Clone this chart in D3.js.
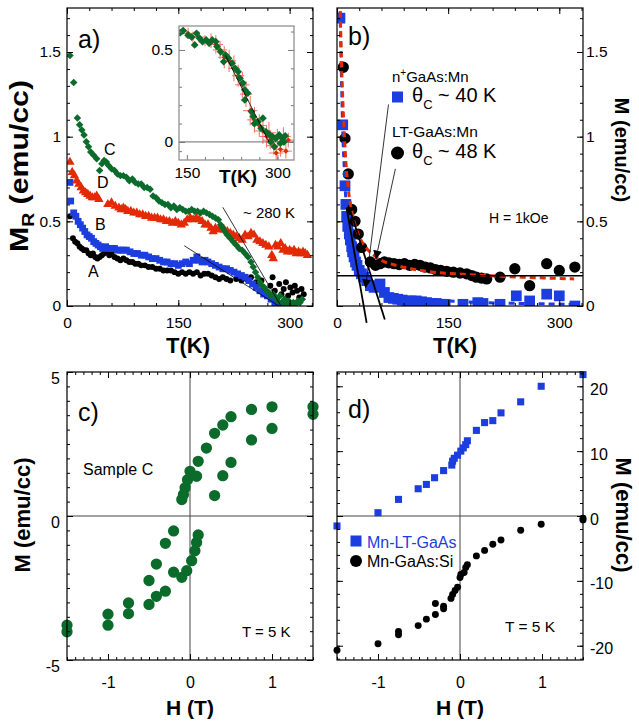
<!DOCTYPE html>
<html>
<head>
<meta charset="utf-8">
<script src="https://cdn.jsdelivr.net/npm/d3@7"></script>
<style>
  body { margin: 0; background: #fff; }
  svg text { font-family: "Liberation Sans", Arial, sans-serif; }
</style>
</head>
<body>
<svg id="chart" width="639" height="723"></svg>
<script>
// ---------------- data ----------------
// panel a: remanent magnetisation vs T, [T (K), M_R (emu/cc)]
const sampleA = [[4,0.53],[8,0.40],[11,0.38],[14,0.37],[17,0.35],[20,0.34],[23,0.33],[26,0.33],[29,0.31],[32,0.30],[35,0.31],[38,0.29],[41,0.28],[44,0.29],[47,0.30],[50,0.31],[53,0.32],[57,0.30],[60,0.31],[64,0.29],[68,0.28],[72,0.27],[76,0.28],[80,0.27],[84,0.26],[88,0.26],[92,0.25],[96,0.25],[100,0.24],[105,0.24],[110,0.23],[115,0.23],[120,0.22],[125,0.22],[130,0.21],[135,0.21],[140,0.21],[145,0.20],[150,0.19],[155,0.20],[160,0.19],[165,0.20],[170,0.19],[175,0.20],[180,0.18],[185,0.19],[190,0.19],[195,0.18],[200,0.17],[205,0.16],[210,0.17],[215,0.16],[220,0.15],[228,0.16],[235,0.15],[242,0.16],[248,0.17],[255,0.14],[262,0.15],[266,0.10],[270,0.07],[274,0.12],[277,0.17],[280,0.09],[283,0.04],[286,0.13],[289,0.07],[292,0.10],[295,0.14],[298,0.06],[301,0.11],[304,0.08],[307,0.12],[310,0.09],[313,0.05],[316,0.10],[319,0.07]];
const sampleB = [[4,0.73],[5,0.62],[9,0.55],[12,0.53],[15,0.50],[18,0.48],[21,0.46],[24,0.44],[27,0.42],[30,0.41],[33,0.40],[36,0.38],[39,0.37],[42,0.36],[45,0.35],[48,0.34],[52,0.35],[56,0.34],[60,0.34],[64,0.34],[68,0.33],[72,0.33],[76,0.33],[80,0.33],[85,0.32],[90,0.31],[95,0.31],[100,0.30],[105,0.30],[110,0.29],[115,0.28],[120,0.28],[125,0.27],[130,0.26],[135,0.26],[140,0.25],[145,0.25],[150,0.24],[155,0.25],[160,0.26],[165,0.25],[170,0.27],[175,0.29],[178,0.27],[182,0.26],[186,0.27],[190,0.26],[195,0.25],[200,0.24],[205,0.23],[210,0.22],[215,0.22],[220,0.21],[225,0.20],[230,0.19],[235,0.18],[240,0.17],[245,0.15],[250,0.13],[255,0.11],[260,0.09],[265,0.07],[270,0.06],[275,0.04],[280,0.02],[285,0.01],[290,0.00]];
const sampleC = [[4,1.48],[9,1.32],[14,1.11],[17,1.07],[20,1.04],[23,1.01],[26,0.97],[29,0.94],[32,0.91],[36,0.89],[40,0.87],[44,0.80],[47,0.84],[50,0.86],[53,0.85],[56,0.83],[60,0.81],[64,0.80],[68,0.78],[72,0.77],[76,0.77],[80,0.76],[84,0.74],[88,0.75],[92,0.73],[96,0.72],[100,0.72],[104,0.70],[108,0.70],[112,0.69],[116,0.65],[120,0.64],[124,0.62],[128,0.61],[132,0.60],[136,0.60],[140,0.58],[144,0.59],[148,0.57],[152,0.58],[156,0.57],[160,0.56],[164,0.56],[168,0.57],[172,0.56],[176,0.56],[180,0.55],[184,0.56],[188,0.55],[192,0.54],[196,0.53],[200,0.52],[204,0.51],[207,0.48],[210,0.46],[213,0.44],[216,0.42],[220,0.40],[224,0.38],[228,0.36],[232,0.34],[236,0.33],[240,0.31],[244,0.29],[248,0.26],[251,0.23],[254,0.20],[257,0.17],[260,0.14],[263,0.12],[266,0.11],[269,0.09],[272,0.08],[275,0.06],[278,0.07],[281,0.05],[284,0.03],[287,0.06],[290,0.02],[293,0.04],[296,0.01],[299,0.03],[302,0.00],[305,0.02],[308,0.01],[311,0.03],[314,0.02],[317,0.04]];
const sampleD = [[4,0.85],[7,0.79],[10,0.77],[13,0.74],[16,0.72],[19,0.70],[22,0.68],[25,0.67],[28,0.66],[31,0.65],[34,0.64],[37,0.64],[40,0.65],[43,0.63],[55,0.60],[60,0.61],[65,0.59],[70,0.58],[73,0.57],[76,0.58],[79,0.57],[82,0.56],[86,0.56],[90,0.55],[94,0.55],[98,0.54],[102,0.54],[106,0.53],[110,0.53],[114,0.52],[118,0.52],[122,0.52],[126,0.51],[130,0.51],[134,0.50],[138,0.50],[142,0.49],[146,0.50],[150,0.49],[154,0.48],[158,0.49],[162,0.51],[166,0.52],[170,0.51],[174,0.52],[178,0.51],[182,0.50],[186,0.48],[190,0.48],[194,0.46],[197,0.44],[200,0.46],[204,0.45],[208,0.46],[212,0.45],[216,0.44],[220,0.43],[224,0.42],[228,0.41],[232,0.40],[236,0.39],[240,0.42],[244,0.41],[248,0.43],[252,0.42],[256,0.39],[260,0.38],[264,0.37],[268,0.36],[272,0.35],[276,0.30],[278,0.28],[281,0.36],[284,0.35],[288,0.37],[291,0.33],[294,0.34],[297,0.32],[300,0.33],[303,0.32],[306,0.33],[309,0.31],[312,0.32],[315,0.31],[318,0.32],[321,0.31],[324,0.30]];
// guide lines in panel a, [[T1,M1],[T2,M2]]
const guideLines = [[[158,0.356],[289,-0.01]], [[210,0.583],[291,-0.02]]];

// inset: sample C near T_C, and red error-bar data [T, M, dT, dM]
const insetC = [[139,0.594],[144,0.605],[152,0.58],[158,0.569],[163,0.527],[166,0.59],[171,0.564],[176,0.545],[182,0.554],[187,0.536],[192,0.554],[198,0.545],[200,0.518],[206,0.49],[211,0.436],[214,0.473],[219,0.455],[225,0.428],[230,0.40],[235,0.382],[238,0.346],[243,0.32],[246,0.283],[251,0.265],[246,0.228],[257,0.165],[260,0.138],[262,0.10],[268,0.11],[276,0.129],[273,0.074],[281,0.056],[287,0.038],[292,0.029],[297,0.02],[303,0.038],[308,0.02],[313,0.033],[311,0.0],[289,0.0],[295,-0.026],[305,-0.007]];
const insetErr = [[142,0.60,8,0.02],[152,0.59,10,0.03],[160,0.57,12,0.03],[170,0.57,10,0.03],[180,0.55,12,0.03],[190,0.55,10,0.04],[198,0.53,12,0.05],[205,0.50,12,0.05],[212,0.46,10,0.06],[220,0.44,12,0.06],[228,0.40,10,0.07],[235,0.36,10,0.06],[242,0.31,12,0.07],[248,0.26,10,0.07],[255,0.17,12,0.08],[262,0.12,12,0.07],[270,0.09,12,0.06],[276,0.06,14,0.07],[282,0.03,12,0.06],[288,0.01,12,0.05],[294,-0.02,12,0.05],[300,0.02,14,0.05],[305,-0.04,12,0.04],[310,0.03,12,0.05],[314,-0.05,10,0.04],[318,0.01,10,0.04],[298,-0.06,12,0.04],[286,0.05,12,0.06]];
const insetLine = [[214,0.47],[286,0.0]];

// panel b: M(T) at 1 kOe, [T, M]
const ltGaAs = [[8.5,1.41],[10.8,0.99],[15.2,0.78],[19.8,0.57],[24.3,0.50],[28.7,0.425],[33.3,0.346],[45,0.26],[52,0.24],[58,0.25],[64,0.26],[70,0.255],[77,0.25],[84,0.245],[91,0.25],[98,0.24],[105,0.245],[112,0.24],[119,0.23],[126,0.225],[133,0.215],[140,0.21],[148,0.205],[157,0.20],[166,0.195],[175,0.19],[182,0.18],[188,0.17],[195,0.165],[202,0.16],[220,0.17],[240,0.22],[260,0.12],[283,0.25],[300,0.21],[321,0.23]];
const nGaAs = [[4,1.70],[7.7,1.07],[10.8,0.71],[12,0.60],[13,0.53],[14.5,0.47],[16.6,0.425],[18,0.39],[19.8,0.35],[21,0.32],[23,0.29],[25,0.26],[27,0.24],[30,0.21],[33,0.19],[36,0.17],[40,0.15],[45,0.12],[50,0.11],[58,0.13],[64,0.08],[70,0.05],[76,0.045],[82,0.04],[88,0.035],[94,0.03],[100,0.03],[107,0.03],[114,0.025],[121,0.02],[128,0.015],[134,0.015],[140,0.01],[146,0.01],[170,0.01],[190,0.02],[197,0.015],[220,0.01],[242,0.06],[260,0.03],[283,0.07],[300,0.06],[321,0.00]];
const fitLT = [[4,1.8],[6,1.45],[8,1.2],[10,1.0],[12,0.85],[15,0.7],[20,0.56],[25,0.47],[30,0.41],[40,0.34],[50,0.3],[60,0.27],[80,0.24],[100,0.22],[130,0.2],[160,0.19],[200,0.18],[250,0.17],[320,0.16]];
const fitN = [[4,1.8],[6,1.35],[8,1.0],[10,0.8],[12,0.62],[15,0.48],[20,0.36],[25,0.28],[30,0.22],[40,0.15],[50,0.11],[70,0.07],[100,0.045],[150,0.03],[200,0.02],[250,0.015],[320,0.01]];
const baseLevel = 0.178;
const extrapLines = [[[13,0.58],[40,-0.10]], [[17.5,0.57],[64.5,-0.08]]];
const pointers = [[[69.5,1.19],[38.5,0.11]], [[78.8,0.81],[52.5,0.28]]];

// panel c: hysteresis loop of sample C, [H (T), M (emu/cc)]
const loopC = [[-1.5,-3.79],[-1.5,-4.02],[-1.0,-3.41],[-1.0,-3.79],[-0.75,-3.02],[-0.75,-3.39],[-0.5,-2.24],[-0.5,-3.07],[-0.41,-1.67],[-0.41,-2.79],[-0.30,-0.95],[-0.30,-2.61],[-0.20,-0.52],[-0.20,-1.95],[-0.10,-2.13],[-0.04,-1.90],[0.02,-1.55],[0.06,-1.21],[0.08,-0.92],[0.10,-0.66],[-0.10,0.57],[-0.08,0.75],[-0.06,0.98],[-0.03,1.26],[0,1.55],[0.08,1.38],[0.10,1.90],[0.20,2.36],[0.30,2.87],[0.30,0.71],[0.40,3.16],[0.40,1.40],[0.50,3.45],[0.50,1.86],[0.75,3.70],[0.75,2.64],[1.0,3.79],[1.0,3.04],[1.5,3.79],[1.5,3.53]];

// panel d: M(H) at 5 K
const mnLT = [[-1.5,-1.54],[-1.0,0.51],[-0.75,2.56],[-0.51,4.2],[-0.41,4.87],[-0.31,5.9],[-0.20,7.0],[-0.10,7.85],[-0.09,8.46],[-0.07,8.9],[-0.03,9.38],[0.01,10.0],[0.04,10.5],[0.07,11.0],[0.09,11.6],[0.20,13.2],[0.30,14.4],[0.40,14.7],[0.50,15.9],[0.74,17.6],[0.99,20.0],[1.5,21.8]];
const mnSi = [[-1.5,-20.7],[-1.0,-19.7],[-0.75,-17.8],[-0.75,-18.3],[-0.51,-16.9],[-0.41,-15.9],[-0.30,-13.5],[-0.30,-15.2],[-0.20,-13.9],[-0.20,-14.3],[-0.11,-12.7],[-0.09,-12.1],[-0.06,-11.5],[-0.03,-11.0],[0,-9.5],[0.01,-9.0],[0.05,-8.7],[0.07,-7.95],[0.09,-7.5],[0.20,-6.15],[0.30,-5.3],[0.40,-4.36],[0.50,-3.7],[0.74,-2.2],[0.99,-1.28],[1.5,-0.35],[1.5,-0.6]];

// ticks
const tTicks = [0, 150, 300];
const tMinor = [0,30,60,90,120,150,180,210,240,270,300,330];
const mrTicks = [0, 0.5, 1, 1.5];
const insetTTicks = [150, 300];
const insetMTicks = [0, 0.5];
const hTicks = [-1, 0, 1];
const mcTicks = [-5, 0, 5];
const mdTicks = [-20, -10, 0, 10, 20];

// ---------------- drawing ----------------
const svg = d3.select('#chart');
const GREEN = '#0b6b2b', RED = '#e22a05', BLUE = '#1c3ddf';
const FONT = '"Liberation Sans", Arial, sans-serif';

const xa = d3.scaleLinear().domain([0, 331.5]).range([67, 313]);
const ya = d3.scaleLinear().domain([0, 1.76]).range([306, 8]);
const xb = d3.scaleLinear().domain([0, 332]).range([337, 583]);
const yb = d3.scaleLinear().domain([0, 1.76]).range([306, 8]);
const xi = d3.scaleLinear().domain([137, 327.5]).range([179, 294]);
const yi = d3.scaleLinear().domain([-0.098, 0.63]).range([160, 26]);
const xc = d3.scaleLinear().domain([-1.5, 1.5]).range([67, 313]);
const yc = d3.scaleLinear().domain([-5, 5]).range([660, 372]);
const xd = d3.scaleLinear().domain([-1.5, 1.5]).range([337, 583]);
const yd = d3.scaleLinear().domain([-22.2, 22.2]).range([660, 372]);

function side(orient, scale, pos, values, len, opt) {
  opt = opt || {};
  const fn = {bottom: d3.axisBottom, top: d3.axisTop, left: d3.axisLeft, right: d3.axisRight}[orient];
  const ax = fn(scale).tickValues(values).tickSize(-len).tickSizeOuter(0)
    .tickPadding(opt.pad || 6)
    .tickFormat(opt.labels ? (d => String(d)) : (() => ''));
  const tr = (orient === 'bottom' || orient === 'top') ? `translate(0,${pos})` : `translate(${pos},0)`;
  const g = svg.append('g').attr('transform', tr).call(ax);
  g.select('.domain').remove();
  g.selectAll('line').attr('stroke', opt.color || '#000').attr('stroke-width', 1);
  g.selectAll('text').attr('font-size', opt.fs || 15.5).attr('font-family', FONT).attr('fill', '#000');
  if (opt.shift) g.selectAll('text').attr('y', opt.shift);
  return g;
}

function frame(x, y, color, width) {
  const [x0, x1] = x.range(), [y0, y1] = y.range();
  svg.append('rect').attr('x', x0).attr('y', y1).attr('width', x1 - x0).attr('height', y0 - y1)
    .attr('fill', 'none').attr('stroke', color || '#000').attr('stroke-width', width || 1.2);
}

function clip(id, x, y) {
  const [x0, x1] = x.range(), [y0, y1] = y.range();
  svg.append('clipPath').attr('id', id).append('rect')
    .attr('x', x0).attr('y', y1).attr('width', x1 - x0).attr('height', y0 - y1);
  return svg.append('g').attr('clip-path', `url(#${id})`);
}

function points(g, data, x, y, shape, size, color, rot) {
  g.selectAll(null).data(data).join('path')
    .attr('d', d3.symbol(shape, size))
    .attr('transform', d => `translate(${x(d[0])},${y(d[1])})` + (rot ? ' rotate(45)' : ''))
    .attr('fill', color);
}

function segment(g, seg, x, y, w, color) {
  return g.append('line')
    .attr('x1', x(seg[0][0])).attr('y1', y(seg[0][1]))
    .attr('x2', x(seg[1][0])).attr('y2', y(seg[1][1]))
    .attr('stroke', color || '#000').attr('stroke-width', w);
}

function label(txt, x, y, fs, opt) {
  opt = opt || {};
  return svg.append('text').attr('x', x).attr('y', y).attr('font-size', fs)
    .attr('font-weight', opt.bold ? 'bold' : null)
    .attr('text-anchor', opt.anchor || 'start')
    .attr('fill', opt.color || '#000').text(txt);
}

// ----- panel a -----
const ga = clip('clipA', xa, ya);
points(ga, sampleA, xa, ya, d3.symbolCircle, 28, '#000');
points(ga, sampleB, xa, ya, d3.symbolSquare, 46, BLUE);
points(ga, sampleD, xa, ya, d3.symbolTriangle, 38, RED);
points(ga, sampleC, xa, ya, d3.symbolSquare, 28, GREEN, true);
guideLines.forEach(s => segment(ga, s, xa, ya, 0.8));

side('bottom', xa, 306, tMinor, 3);
side('bottom', xa, 306, tTicks, 6, {labels: true, pad: 11});
side('top', xa, 8, tMinor, 3);
side('top', xa, 8, tTicks, 6);
side('left', ya, 67, d3.range(0, 1.76, 0.1), 3);
side('left', ya, 67, mrTicks, 6, {labels: true, pad: 6});
side('right', ya, 313, d3.range(0, 1.76, 0.1), 3);
side('right', ya, 313, mrTicks, 6);
frame(xa, ya);

// inset
svg.append('rect').attr('x', 179).attr('y', 26).attr('width', 115).attr('height', 134).attr('fill', '#fff');
const gi = clip('clipI', xi, yi);
gi.append('line').attr('x1', xi(137)).attr('x2', xi(327.5)).attr('y1', yi(0)).attr('y2', yi(0))
  .attr('stroke', '#888').attr('stroke-width', 1.2);
const errG = gi.append('g').attr('stroke', '#e8442c').attr('stroke-width', 1).attr('opacity', 0.75);
insetErr.forEach(d => {
  errG.append('line').attr('x1', xi(d[0] - d[2])).attr('x2', xi(d[0] + d[2])).attr('y1', yi(d[1])).attr('y2', yi(d[1]));
  errG.append('line').attr('x1', xi(d[0])).attr('x2', xi(d[0])).attr('y1', yi(d[1] - d[3])).attr('y2', yi(d[1] + d[3]));
});
points(gi, insetErr, xi, yi, d3.symbolSquare, 14, RED, true);
points(gi, insetC, xi, yi, d3.symbolSquare, 30, GREEN, true);
segment(gi, insetLine, xi, yi, 0.8);
side('left', yi, 179, [-0.05,0.1,0.2,0.3,0.4,0.6], 3, {color: '#777'});
side('left', yi, 179, insetMTicks, 6, {labels: true, pad: 6, color: '#777'});
side('right', yi, 294, [0.1,0.2,0.3,0.4,0.6], 3, {color: '#777'});
side('right', yi, 294, insetMTicks, 6, {color: '#777'});
side('bottom', xi, 160, [180, 210, 240, 270, 300], 3, {color: '#777'});
side('bottom', xi, 160, insetTTicks, 5, {labels: true, pad: 7, color: '#777'});
frame(xi, yi, '#888', 1.2);
label('T(K)', 238, 183, 19, {bold: true, anchor: 'middle'});

// panel a annotations
label('a)', 78, 48, 25);
label('C', 104, 155, 16);
label('D', 97, 188, 16);
label('B', 95, 230, 16);
label('A', 88, 277, 16);
label('~ 280 K', 243, 218, 15);

// ----- panel b -----
const gb = clip('clipB', xb, yb);
points(gb, nGaAs, xb, yb, d3.symbolSquare, 115, BLUE);
points(gb, ltGaAs, xb, yb, d3.symbolCircle, 100, '#000');
const line = d3.line().x(d => xb(d[0])).y(d => yb(d[1])).curve(d3.curveMonotoneX);
gb.append('path').attr('d', line(fitN)).attr('fill', 'none').attr('stroke', BLUE)
  .attr('stroke-width', 3).attr('stroke-dasharray', '6,4');
gb.append('path').attr('d', line(fitLT)).attr('fill', 'none').attr('stroke', RED)
  .attr('stroke-width', 3).attr('stroke-dasharray', '6,4');
gb.append('line').attr('x1', 337).attr('x2', 583).attr('y1', yb(baseLevel)).attr('y2', yb(baseLevel))
  .attr('stroke', '#000').attr('stroke-width', 1.5);
extrapLines.forEach(s => segment(svg, s, xb, yb, 1.8));

svg.append('defs').append('marker').attr('id', 'arrow').attr('viewBox', '0 0 10 10')
  .attr('refX', 9).attr('refY', 5).attr('markerWidth', 9).attr('markerHeight', 9)
  .attr('markerUnits', 'userSpaceOnUse').attr('orient', 'auto')
  .append('path').attr('d', 'M0,0 L10,5 L0,10 Z').attr('fill', '#000');
pointers.forEach(s => segment(svg, s, xb, yb, 0.8).attr('marker-end', 'url(#arrow)'));

side('bottom', xb, 306, tMinor, 3);
side('bottom', xb, 306, tTicks, 6, {labels: true, pad: 11});
side('top', xb, 8, tMinor, 3);
side('top', xb, 8, tTicks, 6);
side('left', yb, 337, d3.range(0, 1.76, 0.1), 3);
side('left', yb, 337, mrTicks, 6);
side('right', yb, 583, d3.range(0, 1.76, 0.1), 3);
side('right', yb, 583, mrTicks, 6, {labels: true, pad: 3});
frame(xb, yb);

label('b)', 348, 45, 25);
const t1 = label('n', 392, 82, 15);
t1.append('tspan').attr('dy', -6).attr('font-size', 10).text('+');
t1.append('tspan').attr('dy', 6).text('GaAs:Mn');
svg.append('rect').attr('x', 392).attr('y', 91.5).attr('width', 11).attr('height', 11).attr('fill', BLUE);
const t2 = label('θ', 412, 102, 20);
t2.append('tspan').attr('dy', 7).attr('font-size', 13).text('C');
t2.append('tspan').attr('dy', -7).text(' ~ 40 K');
label('LT-GaAs:Mn', 392, 137, 15.5);
svg.append('circle').attr('cx', 397.5).attr('cy', 153).attr('r', 6.5).attr('fill', '#000');
const t3 = label('θ', 412, 158, 20);
t3.append('tspan').attr('dy', 7).attr('font-size', 13).text('C');
t3.append('tspan').attr('dy', -7).text(' ~ 48 K');
label('H = 1kOe', 489, 223, 14);

// axis titles, top row
label('T(K)', 188, 353, 22, {bold: true, anchor: 'middle'});
label('T(K)', 455, 353, 22, {bold: true, anchor: 'middle'});
const ya_t = svg.append('text').attr('transform', 'translate(28,166) rotate(-90)')
  .attr('text-anchor', 'middle').attr('font-size', 25).attr('font-weight', 'bold')
  .attr('textLength', 172).attr('lengthAdjust', 'spacingAndGlyphs');
ya_t.append('tspan').text('M');
ya_t.append('tspan').attr('dy', 6).attr('font-size', 16).text('R');
ya_t.append('tspan').attr('dy', -6).text(' (emu/cc)');
svg.append('text').attr('transform', 'translate(615,150) rotate(90)')
  .attr('text-anchor', 'middle').attr('font-size', 20).attr('font-weight', 'bold').text('M (emu/cc)');

// ----- panel c -----
const gc = clip('clipC', xc, yc);
gc.append('line').attr('x1', xc(0)).attr('x2', xc(0)).attr('y1', 372).attr('y2', 660).attr('stroke', '#444').attr('stroke-width', 1);
gc.append('line').attr('x1', 67).attr('x2', 313).attr('y1', yc(0)).attr('y2', yc(0)).attr('stroke', '#444').attr('stroke-width', 1);
points(svg, loopC, xc, yc, d3.symbolCircle, 100, GREEN);

const hMinor = d3.range(-15, 16).map(i => i / 10);
side('bottom', xc, 660, hMinor, 3);
side('bottom', xc, 660, hTicks, 6, {labels: true, pad: 17, fs: 16});
side('top', xc, 372, hMinor, 3);
side('top', xc, 372, hTicks, 6);
side('left', yc, 67, d3.range(-10, 11).map(i => i / 2), 3);
side('left', yc, 67, mcTicks, 6, {labels: true, pad: 7, fs: 16, shift: 6});
side('right', yc, 313, d3.range(-10, 11).map(i => i / 2), 3);
side('right', yc, 313, mcTicks, 6);
frame(xc, yc);

label('c)', 78, 421, 25);
label('Sample C', 83, 475, 16);
label('T = 5 K', 242, 637, 15);

// ----- panel d -----
const gd = clip('clipD', xd, yd);
gd.append('line').attr('x1', xd(0)).attr('x2', xd(0)).attr('y1', 372).attr('y2', 660).attr('stroke', '#444').attr('stroke-width', 1);
gd.append('line').attr('x1', 337).attr('x2', 583).attr('y1', yd(0)).attr('y2', yd(0)).attr('stroke', '#444').attr('stroke-width', 1);
points(svg, mnLT, xd, yd, d3.symbolSquare, 50, BLUE);
points(svg, mnSi, xd, yd, d3.symbolCircle, 38, '#000');

side('bottom', xd, 660, hMinor, 3);
side('bottom', xd, 660, hTicks, 6, {labels: true, pad: 17, fs: 16});
side('top', xd, 372, hMinor, 3);
side('top', xd, 372, hTicks, 6);
side('left', yd, 337, d3.range(-22, 23, 2), 3);
side('left', yd, 337, mdTicks, 6);
side('right', yd, 583, d3.range(-22, 23, 2), 3);
side('right', yd, 583, mdTicks, 6, {labels: true, pad: 7, fs: 16, shift: 3});
frame(xd, yd);

label('d)', 348, 418, 25);
svg.append('rect').attr('x', 350.5).attr('y', 535.5).attr('width', 11).attr('height', 11).attr('fill', BLUE);
label('Mn-LT-GaAs', 367, 548, 16, {color: BLUE});
svg.append('circle').attr('cx', 356).attr('cy', 561).attr('r', 6).attr('fill', '#000');
label('Mn-GaAs:Si', 367, 567, 16);
label('T = 5 K', 505, 632, 15.5);

// axis titles, bottom row
label('H (T)', 190, 715, 21, {bold: true, anchor: 'middle'});
label('H (T)', 460, 715, 21, {bold: true, anchor: 'middle'});
svg.append('text').attr('transform', 'translate(30,515) rotate(-90)')
  .attr('text-anchor', 'middle').attr('font-size', 22).attr('font-weight', 'bold').text('M (emu/cc)');
svg.append('text').attr('transform', 'translate(616,515) rotate(90)')
  .attr('text-anchor', 'middle').attr('font-size', 22).attr('font-weight', 'bold').text('M (emu/cc)');
</script>
</body>
</html>
